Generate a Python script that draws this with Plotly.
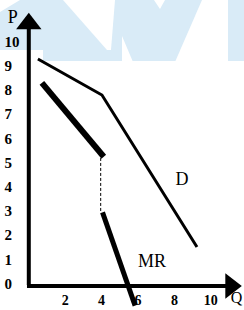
import plotly.graph_objects as go

# ---- data ----
y_ticks = [0, 1, 2, 3, 4, 5, 6, 7, 8, 9, 10]
x_ticks = [2, 4, 6, 8, 10]

d_q = [0.5, 4.02, 9.24]
d_p = [9.34, 7.85, 1.57]

mr_upper_q = [0.72, 4.12]
mr_upper_p = [8.35, 5.3]

mr_lower_q = [4.05, 5.84]
mr_lower_p = [3.0, -0.85]

gap_q = [3.95, 3.95]
gap_p = [5.25, 3.0]

W, H = 244, 310
X0, XS = 28.8, 18.2   # pixel origin / scale (only for range setup)
Y0, YS = 285.0, 24.2

xr = [-X0 / XS, (W - X0) / XS]
yr = [(Y0 - H) / YS, Y0 / YS]

SERIF = "Liberation Serif, Times New Roman, serif"
BLACK = "#000000"

fig = go.Figure()

# axes
fig.add_trace(go.Scatter(x=[0, 0], y=[0, 10.6], mode="lines",
                         line=dict(color=BLACK, width=4), hoverinfo="skip"))
fig.add_trace(go.Scatter(x=[-0.1, 10.9], y=[-0.04, -0.04], mode="lines",
                         line=dict(color=BLACK, width=4), hoverinfo="skip"))
fig.add_trace(go.Scatter(x=[0], y=[10.8], mode="markers",
                         marker=dict(symbol="triangle-up", size=22, color=BLACK),
                         hoverinfo="skip", cliponaxis=False))
fig.add_trace(go.Scatter(x=[11.1], y=[-0.04], mode="markers",
                         marker=dict(symbol="triangle-right", size=22, color=BLACK),
                         hoverinfo="skip", cliponaxis=False))

# curves
fig.add_trace(go.Scatter(x=d_q, y=d_p, mode="lines",
                         line=dict(color=BLACK, width=3), hoverinfo="skip"))
fig.add_trace(go.Scatter(x=mr_upper_q, y=mr_upper_p, mode="lines",
                         line=dict(color=BLACK, width=6), hoverinfo="skip"))
fig.add_trace(go.Scatter(x=mr_lower_q, y=mr_lower_p, mode="lines",
                         line=dict(color=BLACK, width=5), hoverinfo="skip",
                         cliponaxis=False))
fig.add_trace(go.Scatter(x=gap_q, y=gap_p, mode="lines",
                         line=dict(color=BLACK, width=1, dash="3px,2px"),
                         hoverinfo="skip"))

# tick labels
fig.add_trace(go.Scatter(x=[-1.33] * len(y_ticks), y=y_ticks, mode="text",
                         text=[str(v) for v in y_ticks], textposition="middle right",
                         textfont=dict(family=SERIF, size=15, color=BLACK),
                         texttemplate="<b>%{text}</b>", hoverinfo="skip"))
fig.add_trace(go.Scatter(x=x_ticks, y=[-0.7] * len(x_ticks), mode="text",
                         text=[str(v) for v in x_ticks], textposition="middle center",
                         textfont=dict(family=SERIF, size=14, color=BLACK),
                         texttemplate="<b>%{text}</b>", hoverinfo="skip",
                         cliponaxis=False))

# labels
labels = [("P", -0.88, 11.0, 18), ("Q", 11.42, -0.58, 16),
          ("D", 8.42, 4.3, 18), ("MR", 6.77, 0.95, 18)]
for t, x, y, s in labels:
    fig.add_trace(go.Scatter(x=[x], y=[y], mode="text", text=[t],
                             textposition="middle center",
                             textfont=dict(family=SERIF, size=s, color=BLACK),
                             hoverinfo="skip", cliponaxis=False))

# faint watermark band (decoration)
def px_path(pts):
    s = "M " + " L ".join(f"{x / W:.4f},{1 - y / H:.4f}" for x, y in pts) + " Z"
    return s

BLUE = "#d9ebf7"
shapes = [dict(type="rect", xref="paper", yref="paper", x0=0, x1=1,
               y0=1 - 61 / H, y1=1, fillcolor=BLUE, line_width=0, layer="below")]
white_polys = [
    [(0, 0), (20, 0), (0, 12)],
    [(0, 50), (43, 50), (43, 62), (0, 62)],
    [(63, 0), (115, 0), (111, 50), (107, 50)],
    [(154, 0), (165, 0), (160, 9)],
    [(202, 0), (228, 0), (228, 62), (175, 62)],
    [(122, 36), (133, 62), (122, 62)],
]
for poly in white_polys:
    shapes.append(dict(type="path", xref="paper", yref="paper", path=px_path(poly),
                       fillcolor="#ffffff", line_width=0, layer="below"))

fig.update_layout(
    width=W, height=H,
    margin=dict(l=0, r=0, t=0, b=0),
    paper_bgcolor="#ffffff", plot_bgcolor="rgba(0,0,0,0)",
    showlegend=False,
    xaxis=dict(range=xr, visible=False, fixedrange=True),
    yaxis=dict(range=yr, visible=False, fixedrange=True),
    shapes=shapes,
)

fig.write_html("out.html", config={"displayModeBar": False},
               post_script="document.body.style.margin='0';document.body.style.overflow='hidden';")
